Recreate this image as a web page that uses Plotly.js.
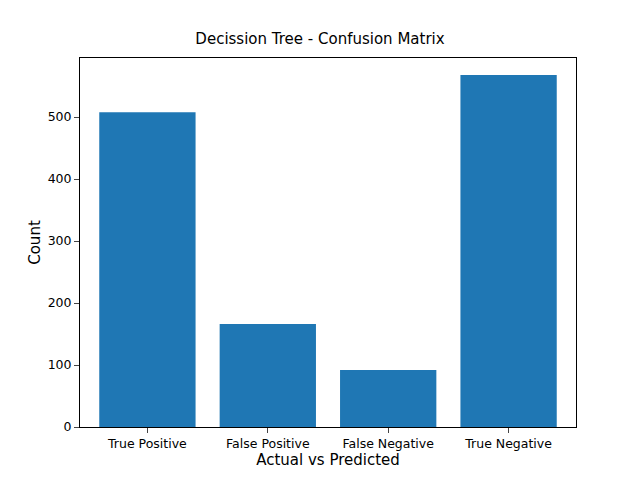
<html><head><script src="https://cdn.plot.ly/plotly-3.0.1.min.js"></script></head>
<body style="margin:0"><div id="c" style="width:640px;height:480px"></div>
<script>
const categories=["True Positive","False Positive","False Negative","True Negative"];
const counts=[508,166,92,568];
Plotly.newPlot('c',[{type:'bar',x:[0,1,2,3],y:counts,width:0.8,marker:{color:'#1f77b4'}}],{
width:640,height:480,paper_bgcolor:'white',plot_bgcolor:'white',
margin:{l:80,r:64,t:58,b:53},
font:{family:'DejaVu Sans',size:12.5,color:'black'},
title:{text:'Decission Tree - Confusion Matrix',x:0.5,xanchor:'center',y:0.93,font:{size:15}},
xaxis:{range:[-0.56,3.56],tickvals:[0,1,2,3],ticktext:categories,showline:true,mirror:true,linecolor:'black',ticks:'outside',showgrid:false,zeroline:false,title:{text:'Actual vs Predicted',standoff:4}},
yaxis:{range:[0,595.4],tickvals:[0,100,200,300,400,500],showline:true,mirror:true,linecolor:'black',ticks:'outside',showgrid:false,zeroline:false,title:{text:'Count'}},
showlegend:false},{displayModeBar:false});
</script></body></html>
